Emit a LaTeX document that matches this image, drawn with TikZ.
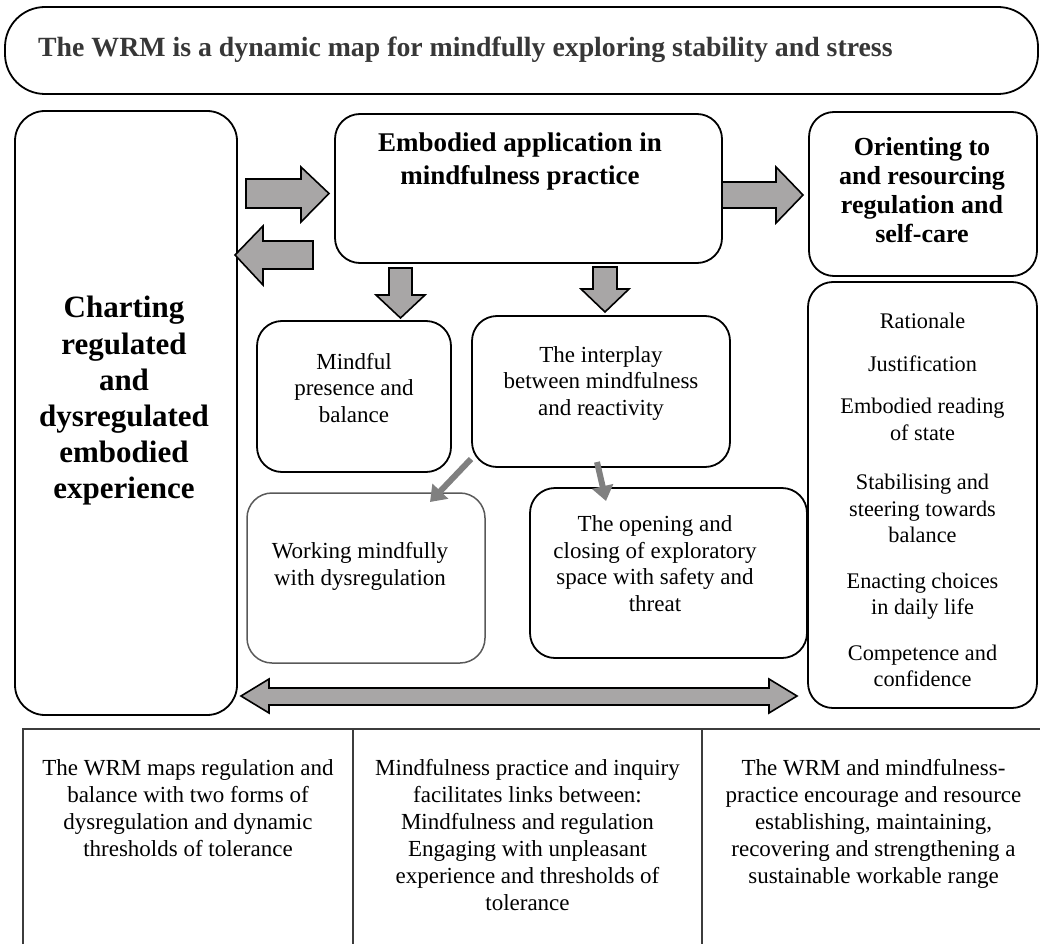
\documentclass[tikz,border=0pt]{standalone}
\usepackage{fontspec}
\setmainfont{Liberation Serif}
\usetikzlibrary{arrows.meta,calc}
\definecolor{arrfill}{RGB}{168,166,166}
\definecolor{thinarr}{RGB}{128,128,128}
\definecolor{bannertext}{RGB}{55,55,55}
\definecolor{tabline}{RGB}{60,60,60}
\begin{document}
\begin{tikzpicture}[x=1pt,y=-1pt,
  box/.style={draw=black, line width=1.8pt, rounded corners=25pt, inner sep=0pt},
  graybox/.style={draw=black!65, line width=1.5pt, rounded corners=25pt, inner sep=0pt},
  reg/.style={font=\fontsize{23}{26.5}\selectfont, align=center, inner sep=0pt},
  bld/.style={font=\fontsize{25}{30}\selectfont\bfseries, align=center, inner sep=0pt},
  tab/.style={font=\fontsize{23}{27}\selectfont, align=center, inner sep=0pt, anchor=north},
  blockarr/.style={draw=black, line width=1.6pt, fill=arrfill, line join=miter},
  thinarrow/.style={draw=thinarr, line width=6pt, -{Triangle[length=15pt,width=21pt]}},
  tabrule/.style={draw=tabline, line width=1.3pt}
]
\useasboundingbox (0,0) rectangle (1040,944);

% banner
\node[box, rounded corners=40pt, minimum width=1033pt, minimum height=87pt] (banner) at (521.5,50.5) {};
\node[font=\fontsize{27.8}{32}\selectfont\bfseries, text=bannertext, anchor=west, inner sep=0pt] (bannertxt) at (38,50) {The WRM is a dynamic map for mindfully exploring stability and stress};

% left tall box
\node[box, rounded corners=30pt, minimum width=222pt, minimum height=604pt] (L) at (126,413) {};
\node[bld, font=\fontsize{31}{36.2}\selectfont\bfseries] (Lt) at (124,401) {Charting\\regulated\\and\\dysregulated\\embodied\\experience};

% top centre box
\node[box, minimum width=387pt, minimum height=149pt] (C) at (528.5,188.5) {};
\node[bld, font=\fontsize{27}{33}\selectfont\bfseries] (Ct) at (520,162) {Embodied application in\\mindfulness practice};

% right top box
\node[box, minimum width=228pt, minimum height=164pt] (R1) at (923,194) {};
\node[bld, font=\fontsize{26}{29}\selectfont\bfseries] (R1t) at (922,190) {Orienting to\\and resourcing\\regulation and\\self-care};

% right lower box
\node[box, minimum width=229pt, minimum height=426pt] (R2) at (922.5,495) {};
\node[reg, font=\fontsize{22.3}{26.5}\selectfont] (R2t) at (922.5,500) {Rationale\\[16pt]Justification\\[16pt]Embodied reading\\of state\\[23pt]Stabilising and\\steering towards\\balance\\[19pt]Enacting choices\\in daily life\\[19pt]Competence and\\confidence};

% middle boxes
\node[box, minimum width=194pt, minimum height=151pt] (M) at (354,396.5) {};
\node[reg] (Mt) at (354,388) {Mindful\\presence and\\balance};

\node[box, minimum width=258pt, minimum height=151pt] (I) at (601,391.5) {};
\node[reg] (It) at (601,383) {The interplay\\between mindfulness\\and reactivity};

\node[graybox, minimum width=238pt, minimum height=170pt] (W) at (366,578) {};
\node[reg] (Wt) at (360,566.5) {Working mindfully\\with dysregulation};

\node[box, minimum width=277pt, minimum height=170pt] (O) at (668.5,573) {};
\node[reg] (Ot) at (655,563.5) {The opening and\\closing of exploratory\\space with safety and\\threat};

% block arrows
\draw[blockarr] (246,179)--(301,179)--(301,167)--(329,193.5)--(301,222)--(301,208)--(246,208)--cycle;
\draw[blockarr] (313,241)--(263,241)--(263,226)--(235,255)--(263,285)--(263,269)--(313,269)--cycle;
\draw[blockarr] (722,182)--(776,182)--(776,167)--(803,195)--(776,223)--(776,208)--(722,208)--cycle;
\draw[blockarr] (389,268)--(412,268)--(412,295)--(425,295)--(400.5,318)--(376,295)--(389,295)--cycle;
\draw[blockarr] (593,267)--(617,267)--(617,289)--(629,289)--(605,312)--(581,289)--(593,289)--cycle;
\draw[blockarr] (241,696)--(269,679)--(269,688)--(769,688)--(769,679)--(797,696)--(769,713)--(769,705)--(269,705)--(269,713)--cycle;

% thin arrows
\coordinate (a1s) at (471,459);
\coordinate (a1e) at (430,502);
\coordinate (a2s) at (597,462);
\coordinate (a2e) at (606,501);
\draw[thinarrow] (a1s) -- (a1e);
\draw[thinarrow] (a2s) -- (a2e);

% bottom table
\coordinate (tbl) at (23,944);
\coordinate (ttl) at (23,729);
\coordinate (ttr) at (1040,729);
\draw[tabrule] (tbl) -- (ttl) -- (ttr);
\draw[tabrule] (353,729) -- (353,944);
\draw[tabrule] (702,729) -- (702,944);
\node[tab] (T1) at (188,759) {The WRM maps regulation and\\balance with two forms of\\dysregulation and dynamic\\thresholds of tolerance};
\node[tab] (T2) at (527.5,759) {Mindfulness practice and inquiry\\facilitates links between:\\Mindfulness and regulation\\Engaging with unpleasant\\experience and thresholds of\\tolerance};
\node[tab] (T3) at (873.5,759) {The WRM and mindfulness-\\practice encourage and resource\\establishing, maintaining,\\recovering and strengthening a\\sustainable workable range};
\end{tikzpicture}
\end{document}
